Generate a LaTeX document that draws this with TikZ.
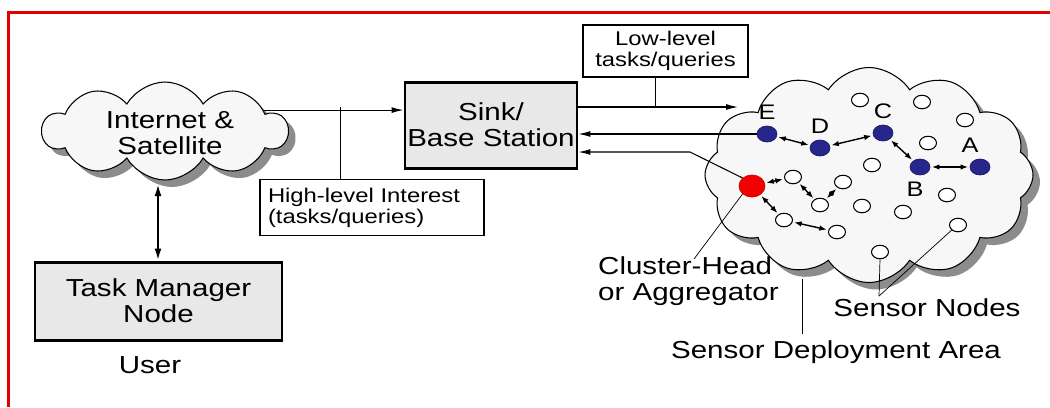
\documentclass[tikz,border=0pt]{standalone}
\usepackage{fontspec}
\setmainfont{Liberation Sans}[FakeStretch=1.2]
\usetikzlibrary{shapes.symbols,shapes.geometric,shadows,arrows.meta,positioning}
\definecolor{FrameRed}{RGB}{228,0,0}
\definecolor{BoxGrey}{RGB}{232,232,232}
\definecolor{CloudWhite}{RGB}{247,247,247}
\definecolor{ShadowGrey}{RGB}{140,140,140}
\definecolor{NodeBlue}{RGB}{38,38,140}
\definecolor{HeadRed}{RGB}{242,0,0}
\tikzset{
  bigfont/.style={font=\fontsize{14}{14.8}\selectfont},
  smallfont/.style={font=\fontsize{11.3}{12}\selectfont},
  gbox/.style={draw,fill=BoxGrey,line width=1.7pt,inner sep=0pt,
               bigfont,align=center},
  lbox/.style={draw,fill=white,line width=0.6pt,smallfont},
  cloudy/.style={cloud,draw,fill=CloudWhite,line width=0.6pt,cloud ignores aspect,
                 drop shadow={shadow xshift=1.4mm,shadow yshift=-1.4mm,
                              fill=ShadowGrey,opacity=1}},
  snode/.style={ellipse,draw,fill=white,line width=0.6pt,
                minimum width=3.4mm,minimum height=2.7mm,inner sep=0pt},
  bnode/.style={ellipse,draw=NodeBlue!70!black,fill=NodeBlue,line width=0.4pt,
                minimum width=4mm,minimum height=3.2mm,inner sep=0pt,
                label distance=0.3mm},
  hnode/.style={ellipse,draw=HeadRed!80!black,fill=HeadRed,
                minimum width=5.2mm,minimum height=4.4mm,inner sep=0pt},
  arr/.style={-{Latex[length=2.4mm,width=1.2mm]},line width=0.6pt},
  link/.style={{Latex[length=1.5mm,width=1.1mm]}-{Latex[length=1.5mm,width=1.1mm]},
               line width=0.8pt,shorten <=0.3mm,shorten >=0.3mm},
  tag/.style={font=\fontsize{12}{12}\selectfont},
}

\begin{document}
\begin{tikzpicture}[x=0.2mm,y=-0.2mm]
  \useasboundingbox (0,0) rectangle (1050,407);
  % frame
  \draw[FrameRed,line width=0.6mm] (8,407) -- (8,12) -- (1050,12);

  % clouds
  \node[cloudy,cloud puffs=10,cloud puff arc=120,minimum width=49mm,
        minimum height=19.6mm] (inet) at (165,131) {};
  \node[bigfont,align=center] (inettxt) at (170,133) {Internet \&\\Satellite};
  \node[cloudy,cloud puffs=12,cloud puff arc=115,minimum width=65.6mm,
        minimum height=43mm] (field) at (869,175) {};

  % boxes
  \node[gbox,minimum width=49.4mm,minimum height=15.6mm] (tmn) at (158.5,301)
       {Task Manager\\Node};
  \node[bigfont] (user) at (150,365) {User};
  \node[gbox,minimum width=34.4mm,minimum height=17.2mm] (sink) at (491,125)
       {Sink/\\Base Station};
  \node[lbox,text width=41.6mm,inner sep=1.6mm,minimum height=10.2mm,align=left]
       (hibox) at (372,207.5) {High-level Interest\\(tasks/queries)};
  \node[lbox,minimum width=33mm,minimum height=10.4mm,align=center,inner sep=1mm]
       (lowbox) at (665.5,51) {Low-level\\tasks/queries};

  % sensor field
  \node[snode] (s1) at (860,100) {};
  \node[snode] (s2) at (922,102) {};
  \node[snode] (s3) at (965,120) {};
  \node[snode] (s4) at (928,143) {};
  \node[snode] (s5) at (872,165) {};
  \node[snode] (s6) at (793,177) {};
  \node[snode] (s7) at (843,182) {};
  \node[snode] (s8) at (820,205) {};
  \node[snode] (s9) at (862,206) {};
  \node[snode] (s10) at (903,212) {};
  \node[snode] (s11) at (947,195) {};
  \node[snode] (s12) at (784,220) {};
  \node[snode] (s13) at (837,232) {};
  \node[snode] (s14) at (958,225) {};
  \node[snode] (s15) at (880,252) {};
  \node[bnode,label={[tag]above:E}] (nE) at (767,134) {};
  \node[bnode,label={[tag]above:D}] (nD) at (820,148) {};
  \node[bnode,label={[tag]above:C}] (nC) at (883,133) {};
  \node[bnode,label={[tag,xshift=-1mm]below:B}] (nB) at (920,167) {};
  \node[bnode,label={[tag,xshift=-2mm]above:A}] (nA) at (980,167) {};
  \node[hnode] (head) at (752,186) {};

  % multi-hop links
  \draw[link] (nE) -- (nD);
  \draw[link] (nD) -- (nC);
  \draw[link] (nC) -- (nB);
  \draw[link] (nB) -- (nA);
  \draw[link] (head) -- (s6);
  \draw[link] (s6) -- (s8);
  \draw[link] (s8) -- (s7);
  \draw[link] (head) -- (s12);
  \draw[link] (s12) -- (s13);

  % user side
  \coordinate (inetfoot) at (158,184);
  \draw[{Latex[length=2.4mm,width=1.4mm]}-{Latex[length=2.4mm,width=1.4mm]},
        line width=1.2pt] (inetfoot) -- (inetfoot |- tmn.north);
  \coordinate (hitap) at (340,107);
  \coordinate (lowtap) at (655,107);
  \coordinate (fieldin) at (738,107);
  \coordinate (bend) at (690,152);
  \draw[arr] (inet.12) -- (inet.12 -| sink.west);
  \draw (hitap) -- (hitap |- hibox.north);
  \draw[arr] (sink.east |- lowtap) -- (fieldin);
  \draw (lowtap) -- (lowtap |- lowbox.south);
  \draw[arr] (nE.west) -- (nE.west -| sink.east);
  \draw[arr] (head.north west) -- (bend) -- (bend -| sink.east);

  % callouts
  \node[bigfont,align=left,anchor=north west] (chtxt) at (592,250)
       {Cluster-Head\\or Aggregator};
  \coordinate (chtip) at (694,259);
  \draw (chtip) -- (head.south west);
  \node[bigfont] (sntxt) at (927,308) {Sensor Nodes};
  \coordinate (sntip) at (879,296);
  \draw (sntip) -- (s15.south);
  \draw (sntip) -- (s14.south west);
  \node[bigfont] (sdatxt) at (836,352) {Sensor Deployment Area};
  \coordinate (sdatip) at (802,279);
  \draw (sdatip) -- (sdatip |- sdatxt.north);
\end{tikzpicture}
\end{document}
